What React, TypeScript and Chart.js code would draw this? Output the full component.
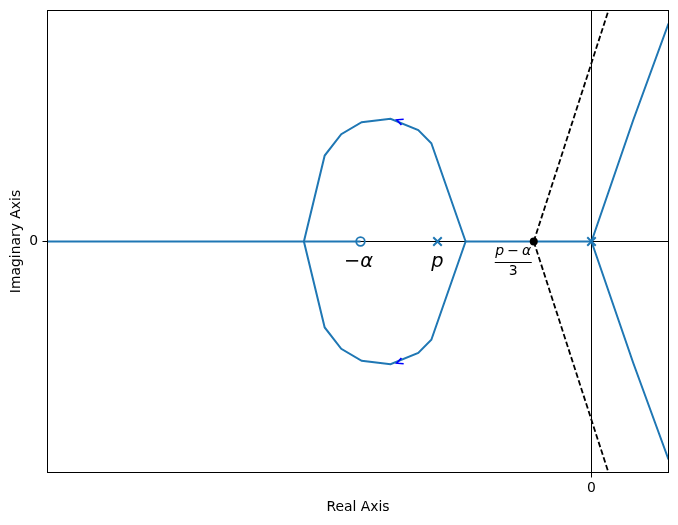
import React, { useEffect, useRef } from "react";
import { Chart, registerables } from "chart.js";

Chart.register(...registerables);

// ---- axis limits and ticks ----
const xLimits = [-14.13, 2];
const yLimits = [-3.36, 3.36];
const xTickValues = [0];
const xTickLabels = ["0"];
const yTickValues = [0];
const yTickLabels = ["0"];
const xAxisTitle = "Real Axis";
const yAxisTitle = "Imaginary Axis";

// ---- root locus loop (complex branches) ----
const loopX = [-3.27, -4.16, -4.5, -5.22, -5.97, -6.5, -6.93, -7.47];
const loopUpperY = [0, 1.43, 1.62, 1.785, 1.735, 1.56, 1.25, 0];
const loopLowerY = [0, -1.43, -1.62, -1.785, -1.735, -1.56, -1.25, 0];

// ---- real-axis parts of the locus ----
const realLeftX = [-14.13, -6];
const realRightX = [-3.27, 0];
const realY = [0, 0];

// ---- branches leaving the double pole at 0 ----
const branchX = [0, 1.08, 2];
const branchUpperY = [0, 1.76, 3.17];
const branchLowerY = [0, -1.76, -3.17];

// ---- asymptotes (dashed) ----
const asymptoteX = [-1.5, 0.55];
const asymptoteUpperY = [0, 3.55];
const asymptoteLowerY = [0, -3.55];

// ---- poles, zero, centroid ----
const poleX = [0, -4];
const poleY = [0, 0];
const zeroX = [-6];
const zeroY = [0];
const centroidX = [-1.5];
const centroidY = [0];

// ---- direction arrows on the loop ----
const arrowX = [-5.06, -5.06];
const arrowY = [1.77, -1.77];
const arrowDX = [-0.72, -0.72];
const arrowDY = [0.16, -0.16];

// ---- reference axis lines ----
const hLineX = [-14.13, 2];
const hLineY = [0, 0];
const vLineX = [0, 0];
const vLineY = [-3.36, 3.36];

const BLUE = "#1f77b4";
const FONT = "'DejaVu Sans', sans-serif";

const pts = (xs: number[], ys: number[]) => xs.map((v, i) => ({ x: v, y: ys[i] }));

type Piece = { t: string; it: boolean; padL?: number; padR?: number };

function drawPieces(
  ctx: CanvasRenderingContext2D,
  pieces: Piece[],
  x: number,
  baseline: number,
  size: number,
  align: "left" | "center" | "right"
) {
  const widths = pieces.map((p) => {
    ctx.font = `${p.it ? "italic " : ""}${size}px ${FONT}`;
    return ctx.measureText(p.t).width + (p.padL || 0) + (p.padR || 0);
  });
  const total = widths.reduce((a, b) => a + b, 0);
  let cur = align === "center" ? x - total / 2 : align === "right" ? x - total : x;
  ctx.textAlign = "left";
  ctx.textBaseline = "alphabetic";
  pieces.forEach((p, i) => {
    ctx.font = `${p.it ? "italic " : ""}${size}px ${FONT}`;
    ctx.fillText(p.t, cur + (p.padL || 0), baseline);
    cur += widths[i];
  });
  return total;
}

const overlayPlugin = {
  id: "overlay",
  afterDatasetsDraw(chart: any) {
    const { ctx, chartArea: a } = chart;
    const xs = chart.scales.x;
    const ys = chart.scales.y;
    ctx.save();

    // arrows
    ctx.strokeStyle = "#0000ff";
    ctx.fillStyle = "#0000ff";
    ctx.lineWidth = 1.6;
    ctx.lineJoin = "miter";
    for (let i = 0; i < arrowX.length; i++) {
      const px = xs.getPixelForValue(arrowX[i]);
      const py = ys.getPixelForValue(arrowY[i]);
      const qx = xs.getPixelForValue(arrowX[i] + arrowDX[i]);
      const qy = ys.getPixelForValue(arrowY[i] + arrowDY[i]);
      const ang = Math.atan2(qy - py, qx - px);
      const back = ang + Math.PI;
      const L = 7;
      const spread = 0.45;
      ctx.beginPath();
      ctx.moveTo(px + L * Math.cos(back + spread), py + L * Math.sin(back + spread));
      ctx.lineTo(px, py);
      ctx.lineTo(px + L * Math.cos(back - spread), py + L * Math.sin(back - spread));
      ctx.stroke();
    }

    // labels
    ctx.fillStyle = "#000";
    const y0 = ys.getPixelForValue(0);
    const zx = xs.getPixelForValue(zeroX[0]);
    drawPieces(ctx, [{ t: "\u2212", it: false }, { t: "\u03b1", it: true }], zx - 2, y0 + 25.5, 19.4, "center");
    const px = xs.getPixelForValue(poleX[1]);
    drawPieces(ctx, [{ t: "p", it: true }], px, y0 + 25.5, 19.4, "center");

    const cx = xs.getPixelForValue(centroidX[0]);
    const barRight = cx - 2;
    const barW = 37;
    const barC = barRight - barW / 2;
    drawPieces(
      ctx,
      [{ t: "p", it: true }, { t: "\u2212", it: false, padL: 3, padR: 3 }, { t: "\u03b1", it: true }],
      barC,
      y0 + 13.5,
      14,
      "center"
    );
    ctx.fillRect(barRight - barW, y0 + 20.5, barW, 1);
    drawPieces(ctx, [{ t: "3", it: false }], barC, y0 + 33.5, 14, "center");

    // frame
    ctx.strokeStyle = "#000";
    ctx.lineWidth = 1;
    ctx.strokeRect(a.left, a.top, a.right - a.left, a.bottom - a.top);
    ctx.restore();
  },
};

export default function App() {
  const ref = useRef<HTMLCanvasElement | null>(null);

  useEffect(() => {
    if (!ref.current) return;
    const lineDs = (data: any[], color: string, width: number, extra: any = {}) => ({
      type: "line" as const,
      data,
      showLine: true,
      borderColor: color,
      borderWidth: width,
      pointRadius: 0,
      fill: false,
      tension: 0,
      clip: 0,
      ...extra,
    });

    const chart = new Chart(ref.current, {
      type: "scatter",
      data: {
        datasets: [
          {
            data: pts(centroidX, centroidY),
            pointStyle: "circle",
            pointRadius: 4,
            backgroundColor: "#000",
            borderColor: "#000",
            borderWidth: 0,
          } as any,
          {
            data: pts(poleX, poleY),
            pointStyle: "crossRot",
            pointRadius: 6,
            borderColor: BLUE,
            borderWidth: 2,
            backgroundColor: BLUE,
          },
          {
            data: pts(zeroX, zeroY),
            pointStyle: "circle",
            pointRadius: 4.3,
            borderColor: BLUE,
            borderWidth: 1.8,
            backgroundColor: "rgba(0,0,0,0)",
          },
          lineDs(pts(loopX, loopUpperY), BLUE, 2),
          lineDs(pts(loopX, loopLowerY), BLUE, 2),
          lineDs(pts(realLeftX, realY), BLUE, 2),
          lineDs(pts(realRightX, realY), BLUE, 2),
          lineDs(pts(branchX, branchUpperY), BLUE, 2),
          lineDs(pts(branchX, branchLowerY), BLUE, 2),
          lineDs(pts(asymptoteX, asymptoteUpperY), "#000", 1.8, { borderDash: [5.5, 2.6] }),
          lineDs(pts(asymptoteX, asymptoteLowerY), "#000", 1.8, { borderDash: [5.5, 2.6] }),
          lineDs(pts(hLineX, hLineY), "#000", 1),
          lineDs(pts(vLineX, vLineY), "#000", 1),
        ],
      },
      options: {
        responsive: false,
        animation: false,
        devicePixelRatio: 1,
        layout: { padding: { left: 0.5, top: 10.5, right: 9.5, bottom: 0 } },
        plugins: { legend: { display: false }, tooltip: { enabled: false } },
        scales: {
          x: {
            type: "linear",
            min: xLimits[0],
            max: xLimits[1],
            afterFit: (s: any) => {
              s.height = 52.5;
              s.paddingLeft = 0;
              s.paddingRight = 0;
              s.paddingTop = 0;
              s.paddingBottom = 0;
            },
            afterBuildTicks: (s: any) => {
              s.ticks = xTickValues.map((v) => ({ value: v }));
            },
            ticks: {
              callback: (v: any) => {
                const i = xTickValues.indexOf(Number(v));
                return i >= 0 ? xTickLabels[i] : "";
              },
              color: "#000",
              font: { family: FONT, size: 13.9 },
              padding: 3,
              maxRotation: 0,
              autoSkip: false,
            },
            grid: {
              drawOnChartArea: false,
              drawTicks: true,
              tickLength: 5,
              tickColor: "#000",
              tickWidth: 1,
            },
            border: { display: false },
            title: {
              display: true,
              text: xAxisTitle,
              color: "#000",
              font: { family: FONT, size: 13.9 },
              padding: { top: 0, bottom: 9.1 },
            },
          },
          y: {
            type: "linear",
            min: yLimits[0],
            max: yLimits[1],
            afterFit: (s: any) => {
              s.width = 47;
              s.paddingLeft = 0;
              s.paddingRight = 0;
              s.paddingTop = 0;
              s.paddingBottom = 0;
            },
            afterBuildTicks: (s: any) => {
              s.ticks = yTickValues.map((v) => ({ value: v }));
            },
            ticks: {
              callback: (v: any) => {
                const i = yTickValues.indexOf(Number(v));
                return i >= 0 ? yTickLabels[i] : "";
              },
              color: "#000",
              font: { family: FONT, size: 13.9 },
              padding: 4.5,
              autoSkip: false,
            },
            grid: {
              drawOnChartArea: false,
              drawTicks: true,
              tickLength: 5,
              tickColor: "#000",
              tickWidth: 1,
            },
            border: { display: false },
            title: {
              display: true,
              text: yAxisTitle,
              color: "#000",
              font: { family: FONT, size: 13.9 },
              padding: { top: 7.1, bottom: 0 },
            },
          },
        },
      },
      plugins: [overlayPlugin],
    } as any);

    return () => chart.destroy();
  }, []);

  return (
    <div style={{ position: "absolute", left: 0, top: 0, width: 678, height: 525, background: "#fff" }}>
      <canvas ref={ref} width={678} height={525} style={{ display: "block", width: 678, height: 525 }} />
    </div>
  );
}
